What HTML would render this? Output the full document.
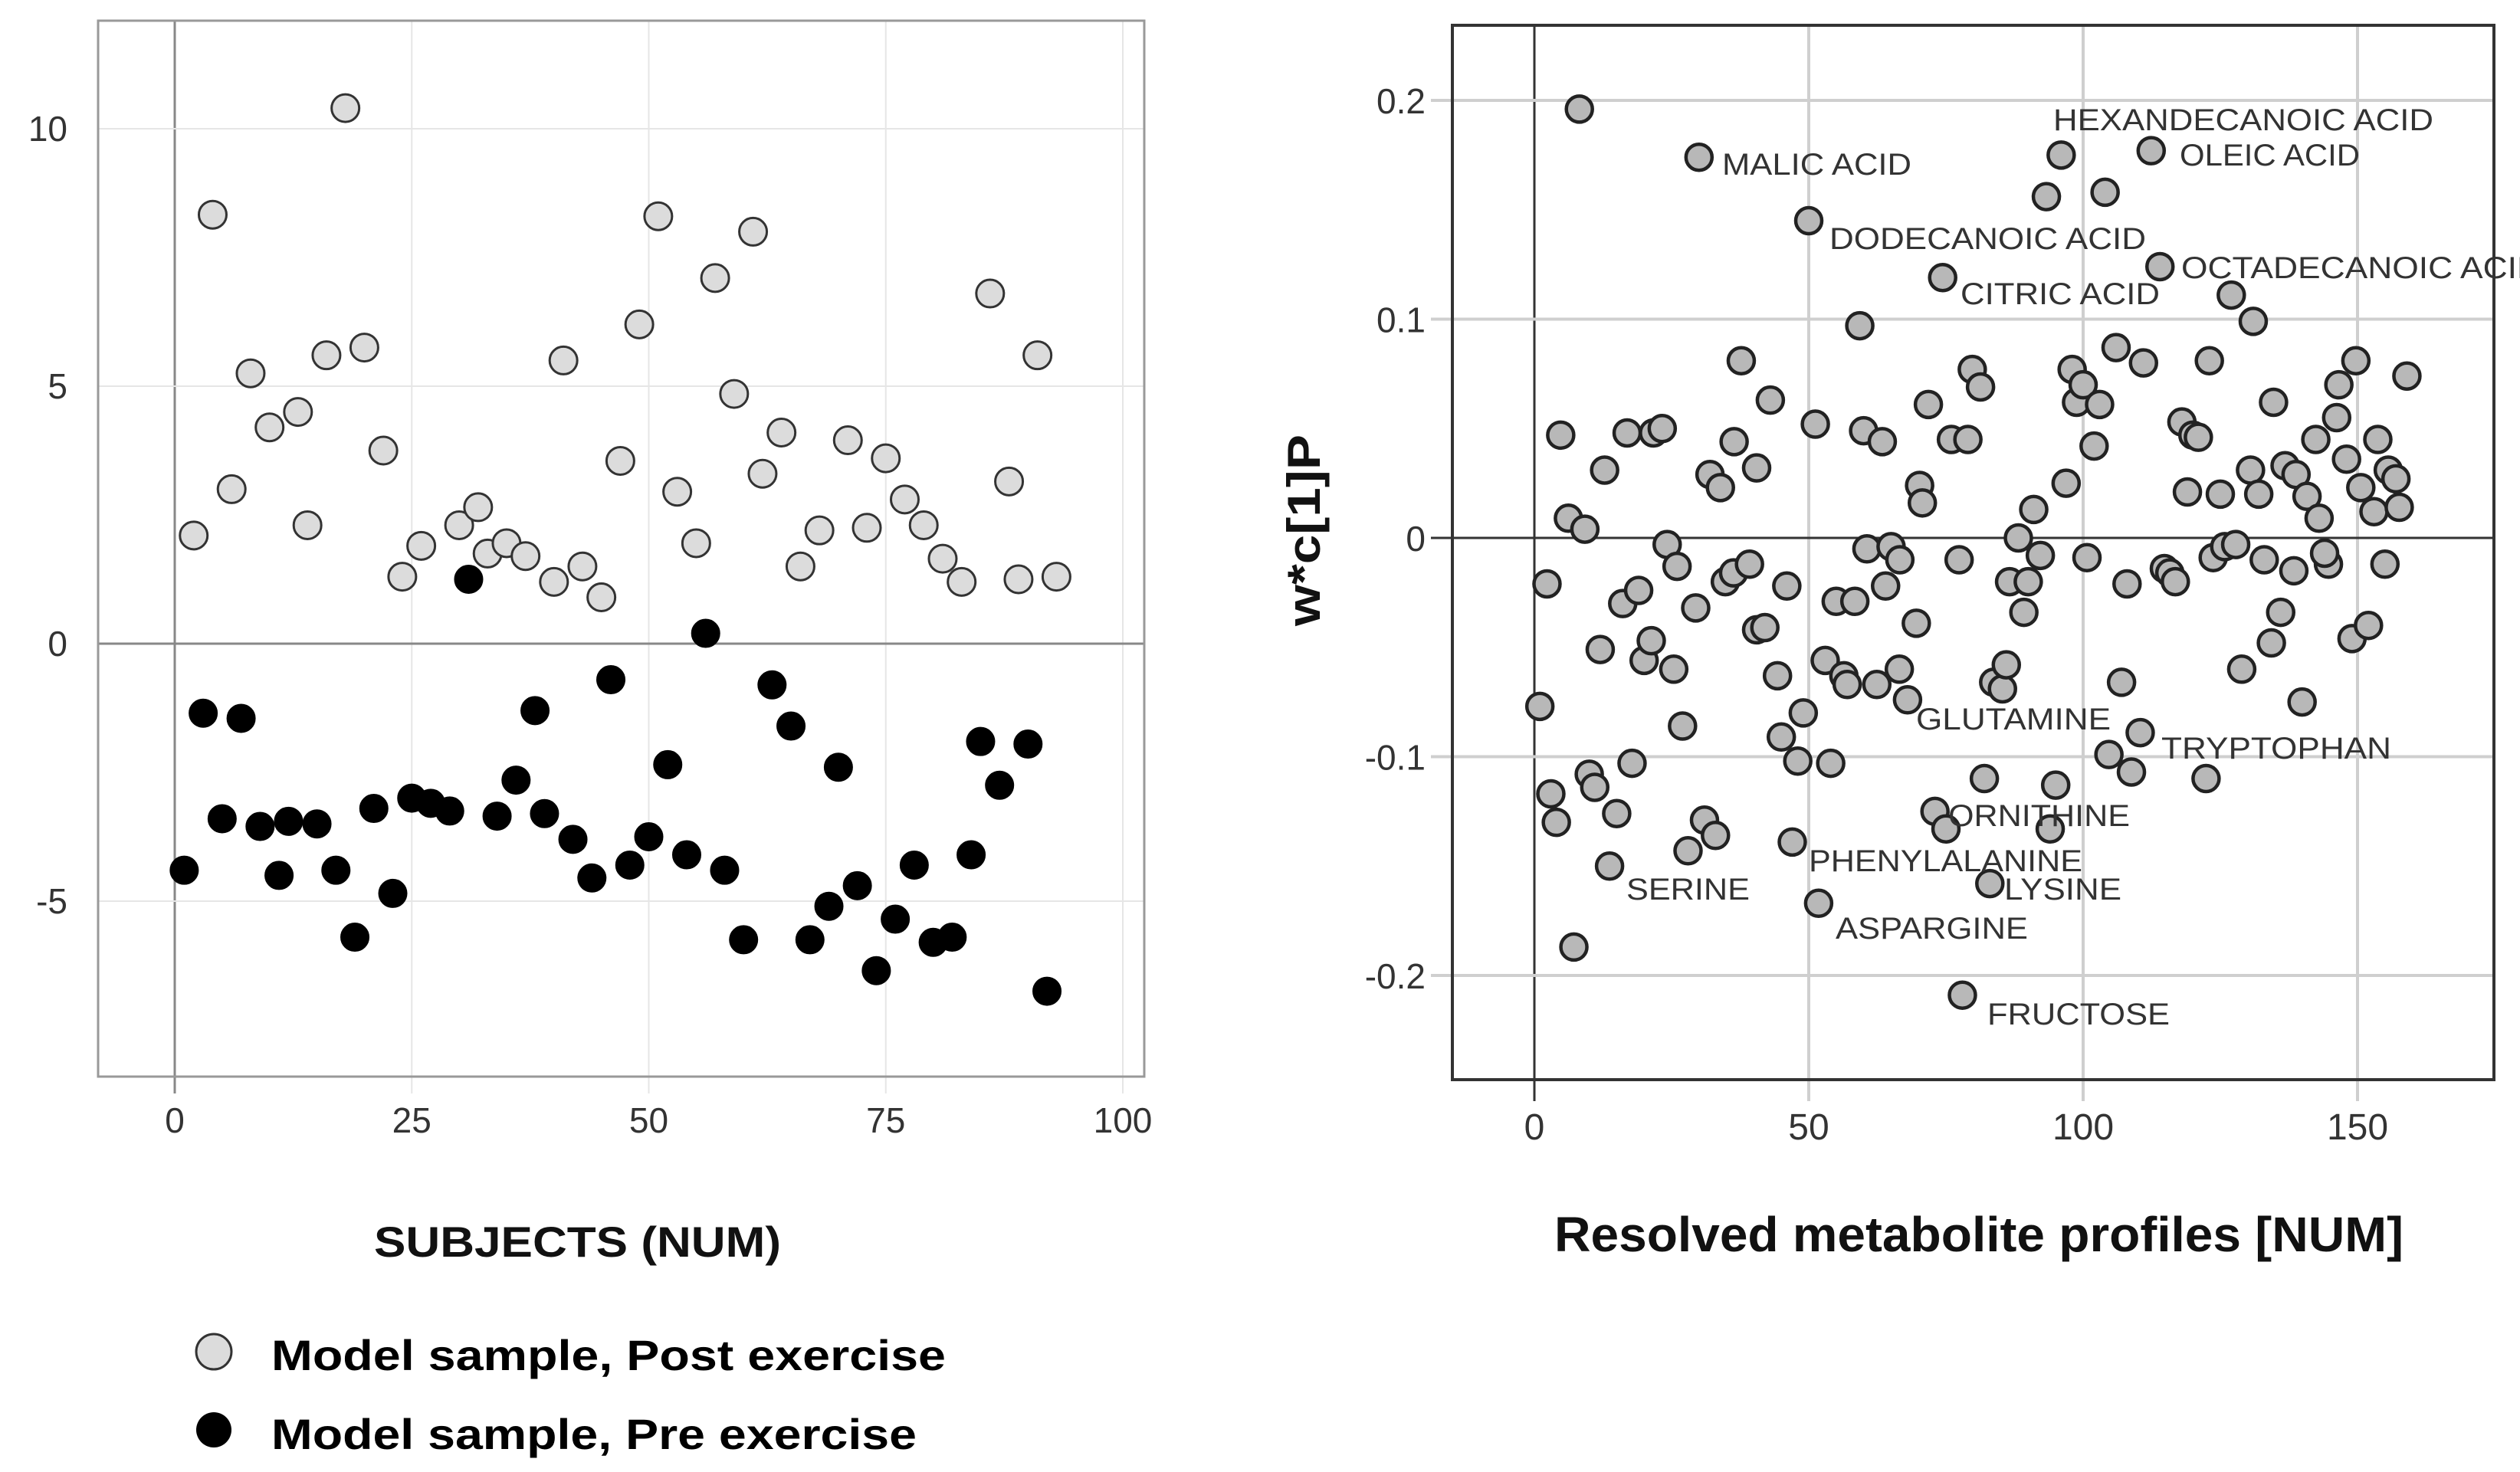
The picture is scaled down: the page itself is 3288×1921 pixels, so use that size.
<!DOCTYPE html>
<html><head><meta charset="utf-8"><style>
html,body{margin:0;padding:0;background:#fff;}
svg{display:block;font-family:"Liberation Sans",Arial,sans-serif;}
</style></head><body>
<svg id="fig" width="3288" height="1921" viewBox="0 0 3288 1921" xmlns="http://www.w3.org/2000/svg">
<g id="left"></g>
<g id="right"></g>
</svg>
<script>
// ---- Left chart data ----
const postX=[2,4,6,8,10,13,14,16,18,20,22,24,26,30,32,33,35,37,40,41,43,45,47,49,51,53,55,57,59,61,62,64,66,68,71,73,75,77,79,81,83,86,88,89,91,93];
const postY=[2.1,8.33,3.0,5.25,4.2,4.5,2.3,5.6,10.4,5.75,3.75,1.3,1.9,2.3,2.65,1.75,1.95,1.7,1.2,5.5,1.5,0.9,3.55,6.2,8.3,2.95,1.95,7.1,4.85,8.0,3.3,4.1,1.5,2.2,3.95,2.25,3.6,2.8,2.3,1.65,1.2,6.8,3.15,1.25,5.6,1.3];
const preX=[1,3,5,7,9,11,12,15,17,19,21,23,25,27,29,31,34,36,38,39,42,44,46,48,50,52,54,56,58,60,63,65,67,69,70,72,74,76,78,80,82,84,85,87,90,92];
const preY=[-4.4,-1.35,-3.4,-1.45,-3.55,-4.5,-3.45,-3.5,-4.4,-5.7,-3.2,-4.85,-3.0,-3.1,-3.25,1.25,-3.35,-2.65,-1.3,-3.3,-3.8,-4.55,-0.7,-4.3,-3.75,-2.35,-4.1,0.2,-4.4,-5.75,-0.8,-1.6,-5.75,-5.1,-2.4,-4.7,-6.35,-5.35,-4.3,-5.8,-5.7,-4.1,-1.9,-2.75,-1.95,-6.75];
const leftXTicks=[0,25,50,75,100];
const leftYTicks=[-5,0,5,10];
// ---- Right chart data ----
const metX=[8.2,30,50,74.4,96,93.3,104,112.4,114,127,131,59.3,37.7,43,4.8,16.9,21.7,23.3,12.8,6.2,9.2,32,33.9,36.4,40.5,51.2,60,63.4,70.2,70.7,71.8,76,79,79.8,81.3,91,96.9,98,98.8,100,103,102,106,111,118,120,121,123,119,125,130.5,132,134.7,136.8,138.8,140.8,143,142.4,146.6,146.2,148,149.7,150.6,153,153.7,155.6,157,157.6,159,
1,2.3,3,4,7.2,12,10,11,13.7,15,16.1,17.8,19,20,21.3,24.2,25.4,26,27,28,29.4,31,33,34.8,36.3,39.2,40.5,42,44.3,45,46,47,48,49,51.8,53,54,55,56.4,57,58.4,60.6,62.4,64,65,66.6,66.5,68,69.6,73,75,77.4,82,83,83.7,85.3,86,88.2,86.6,90,89.2,92.2,94,95,100.7,104.7,107,108,108.8,110.4,114.8,115.8,116.8,122.4,123.7,125.8,127.8,128.9,133,134.3,136,138.4,139.9,144.7,144,149,152,155,78];
const metY=[0.196,0.174,0.145,0.119,0.175,0.156,0.158,0.177,0.124,0.111,0.099,0.097,0.081,0.063,0.047,0.048,0.048,0.050,0.031,0.009,0.004,0.029,0.023,0.044,0.032,0.052,0.049,0.044,0.024,0.016,0.061,0.045,0.045,0.077,0.069,0.013,0.025,0.077,0.062,0.070,0.061,0.042,0.087,0.080,0.053,0.047,0.046,0.081,0.021,0.020,0.031,0.020,0.062,0.033,0.029,0.019,0.009,0.045,0.070,0.055,0.036,0.081,0.023,0.012,0.045,0.031,0.027,0.014,0.074,
-0.077,-0.021,-0.117,-0.130,-0.187,-0.051,-0.108,-0.114,-0.150,-0.126,-0.030,-0.103,-0.024,-0.056,-0.047,-0.003,-0.060,-0.013,-0.086,-0.143,-0.032,-0.129,-0.136,-0.020,-0.016,-0.012,-0.042,-0.041,-0.063,-0.091,-0.022,-0.139,-0.102,-0.080,-0.167,-0.056,-0.103,-0.029,-0.063,-0.067,-0.029,-0.005,-0.067,-0.022,-0.004,-0.010,-0.060,-0.074,-0.039,-0.125,-0.133,-0.010,-0.110,-0.158,-0.066,-0.069,-0.058,0.000,-0.020,-0.020,-0.034,-0.008,-0.133,-0.113,-0.009,-0.099,-0.066,-0.021,-0.107,-0.089,-0.014,-0.016,-0.020,-0.110,-0.009,-0.004,-0.003,-0.060,-0.010,-0.048,-0.034,-0.015,-0.075,-0.012,-0.007,-0.046,-0.040,-0.012,-0.209];
const rightXTicks=[0,50,100,150];
const rightYTicks=[-0.2,-0.1,0,0.1,0.2];
const rightYLabels=["-0.2","-0.1","0","0.1","0.2"];
const annoText=["HEXANDECANOIC ACID","MALIC ACID","OLEIC ACID","DODECANOIC ACID","OCTADECANOIC ACID","CITRIC ACID","GLUTAMINE","TRYPTOPHAN","ORNITHINE","PHENYLALANINE","SERINE","LYSINE","ASPARGINE","FRUCTOSE"];

const NS="http://www.w3.org/2000/svg";
function mk(parent,tag,attrs,text){const e=document.createElementNS(NS,tag);for(const k in attrs)e.setAttribute(k,attrs[k]);if(text!==undefined)e.textContent=text;parent.appendChild(e);return e;}

// ===== LEFT =====
const L=document.getElementById('left');
const lx=v=>228+v*12.37;
const ly=v=>840-v*67.2;
const LB={x0:128,x1:1493,y0:27,y1:1405};
leftXTicks.forEach(t=>{const e=mk(L,'line',{x1:lx(t),x2:lx(t),y1:LB.y0,y2:LB.y1+22,stroke:t===0?'#888':'#e6e6e6','stroke-width':t===0?3:2});

});
leftYTicks.forEach(t=>{const e=mk(L,'line',{x1:LB.x0,x2:LB.x1,y1:ly(t),y2:ly(t),stroke:t===0?'#888':'#e6e6e6','stroke-width':t===0?3:2});

});
{const e=mk(L,'rect',{x:LB.x0,y:LB.y0,width:LB.x1-LB.x0,height:LB.y1-LB.y0,fill:'none',stroke:'#999','stroke-width':3});

}
leftXTicks.forEach(t=>{const e=mk(L,'text',{x:lx(t),y:1478,'text-anchor':'middle','font-size':46,fill:'#333'},String(t));

});
leftYTicks.forEach(t=>{const e=mk(L,'text',{x:88,y:ly(t)+16,'text-anchor':'end','font-size':46,fill:'#333'},String(t));

});
postX.forEach((v,i)=>{const e=mk(L,'circle',{cx:lx(v),cy:ly(postY[i]),r:18,fill:'#dcdcdc',stroke:'#333','stroke-width':3});

});
preX.forEach((v,i)=>{const e=mk(L,'circle',{cx:lx(v),cy:ly(preY[i]),r:18,fill:'#000',stroke:'#000','stroke-width':2});

});
{const e=mk(L,'text',{x:488,y:1640,'font-size':56,'font-weight':'bold',fill:'#111',textLength:531,lengthAdjust:'spacingAndGlyphs'},'SUBJECTS (NUM)');

}
{const e=mk(L,'circle',{cx:279,cy:1764,r:23,fill:'#dcdcdc',stroke:'#333','stroke-width':3});

}
{const e=mk(L,'text',{x:354,y:1788,'font-size':56,'font-weight':'bold',fill:'#000',textLength:880,lengthAdjust:'spacingAndGlyphs'},'Model sample, Post exercise');

}
{const e=mk(L,'circle',{cx:279,cy:1866,r:23,fill:'#000'});

}
{const e=mk(L,'text',{x:354,y:1891,'font-size':56,'font-weight':'bold',fill:'#000',textLength:842,lengthAdjust:'spacingAndGlyphs'},'Model sample, Pre exercise');

}

// ===== RIGHT =====
const R=document.getElementById('right');
const rx=v=>2002+v*7.16;
const ry=v=>702-v*2855;
const RB={x0:1895,x1:3254,y0:33,y1:1409};
rightXTicks.forEach(t=>{const e=mk(R,'line',{x1:rx(t),x2:rx(t),y1:RB.y0,y2:RB.y1+28,stroke:t===0?'#333':'#cfcfcf','stroke-width':t===0?3:4});

});
rightYTicks.forEach(t=>{const e=mk(R,'line',{x1:RB.x0-28,x2:RB.x1,y1:ry(t),y2:ry(t),stroke:t===0?'#333':'#cfcfcf','stroke-width':t===0?3:4});

});
{const e=mk(R,'rect',{x:RB.x0,y:RB.y0,width:RB.x1-RB.x0,height:RB.y1-RB.y0,fill:'none',stroke:'#333','stroke-width':4});

}
rightXTicks.forEach(t=>{const e=mk(R,'text',{x:rx(t),y:1487,'text-anchor':'middle','font-size':48,fill:'#333'},String(t));

});
rightYTicks.forEach((t,i)=>{const e=mk(R,'text',{x:1860,y:ry(t)+17,'text-anchor':'end','font-size':46,fill:'#333'},rightYLabels[i]);

});
metX.forEach((v,i)=>{const e=mk(R,'circle',{cx:rx(v),cy:ry(metY[i]),r:17,fill:'#b8b8b8',stroke:'#222','stroke-width':4.5});

});
const annoX=[2679,2247,2844,2387,2846,2558,2500,2820,2542,2360,2122,2615,2395,2593];
const annoY=[170,228,216,325,363,397,952,990,1078,1137,1174,1174,1225,1337];
const annoW=[496,247,235,413,470,260,254,300,237,357,161,153,251,238];
annoText.forEach((s,i)=>{const e=mk(R,'text',{x:annoX[i],y:annoY[i],'font-size':40,fill:'#333',textLength:annoW[i],lengthAdjust:'spacingAndGlyphs'},s);

});
{const e=mk(R,'text',{x:2028,y:1633,'font-size':64,'font-weight':'bold',fill:'#111',textLength:1108,lengthAdjust:'spacingAndGlyphs'},'Resolved metabolite profiles [NUM]');

}
{const e=mk(R,'text',{x:0,y:0,'font-size':60,'font-weight':'bold',fill:'#111','text-anchor':'middle',transform:'translate(1722,692) rotate(-90)',textLength:250,lengthAdjust:'spacingAndGlyphs'},'w*c[1]P');

}
</script>
</body></html>
